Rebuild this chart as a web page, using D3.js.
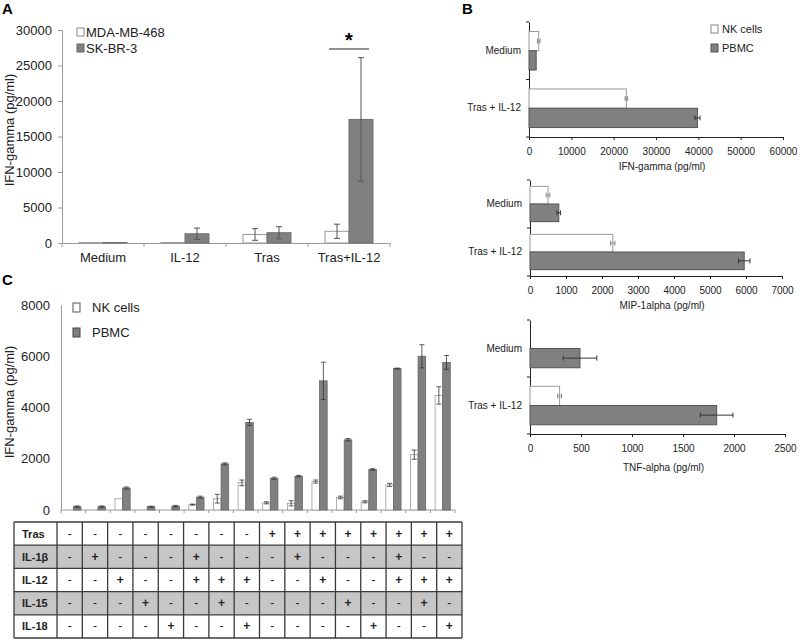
<!DOCTYPE html>
<html><head><meta charset="utf-8">
<script src="https://cdn.jsdelivr.net/npm/d3@7"></script>
<style>body{margin:0;background:#fff} svg{display:block;font-family:Arial,"Liberation Sans",sans-serif}</style>
</head><body><svg id="c" width="800" height="640"></svg>
<script>
// ---------- Panel A data ----------
const aCategories = ["Medium", "IL-12", "Tras", "Tras+IL-12"];
const aSeries = ["MDA-MB-468", "SK-BR-3"];
const aMDA = [60, 70, 1200, 1650];
const aMDAerr = [0, 0, 820, 1000];
const aSKBR = [70, 1300, 1450, 17400];
const aSKBRerr = [0, 800, 850, 8700];
const aTicks = [0, 5000, 10000, 15000, 20000, 25000, 30000];

// ---------- Panel B data ----------
const bCategories = ["Medium", "Tras + IL-12"];
const bSeries = ["NK cells", "PBMC"];
const bIFN_NK = [2300, 23000];
const bIFN_NKerr = [300, 300];
const bIFN_PBMC = [1700, 39800];
const bIFN_PBMCerr = [0, 600];
const bIFNTicks = [0, 10000, 20000, 30000, 40000, 50000, 60000];
const bMIP_NK = [500, 2300];
const bMIP_NKerr = [50, 60];
const bMIP_PBMC = [800, 5950];
const bMIP_PBMCerr = [50, 160];
const bMIPTicks = [0, 1000, 2000, 3000, 4000, 5000, 6000, 7000];
const bTNF_NK = [0, 290];
const bTNF_NKerr = [0, 20];
const bTNF_PBMC = [490, 1830];
const bTNF_PBMCerr = [165, 160];
const bTNFTicks = [0, 500, 1000, 1500, 2000, 2500];

// ---------- Panel C data ----------
const cSeries = ["NK cells", "PBMC"];
const cNK = [0, 0, 440, 0, 0, 210, 440, 1060, 280, 260, 1110, 490, 320, 980, 2160, 4470];
const cNKerr = [0, 0, 0, 0, 0, 20, 170, 110, 40, 100, 60, 50, 40, 60, 180, 340];
const cPBMC = [130, 130, 860, 130, 150, 500, 1800, 3420, 1240, 1320, 5040, 2740, 1580, 5520, 6000, 5760];
const cPBMCerr = [30, 30, 40, 20, 30, 40, 40, 120, 40, 30, 730, 50, 30, 20, 450, 270];
const cTicks = [0, 2000, 4000, 6000, 8000];
const tableRows = ["Tras", "IL-1β", "IL-12", "IL-15", "IL-18"];
const tTras = ["-","-","-","-","-","-","-","-","+","+","+","+","+","+","+","+"];
const tIL1b = ["-","+","-","-","-","+","-","-","-","+","-","-","-","+","-","-"];
const tIL12 = ["-","-","+","-","-","+","+","+","-","-","+","-","-","+","+","+"];
const tIL15 = ["-","-","-","+","-","-","+","-","-","-","-","+","-","-","+","-"];
const tIL18 = ["-","-","-","-","+","-","-","+","-","-","-","-","+","-","-","+"];

const svg = d3.select("#c");
const GREYFILL = "#808080", GREYSTROKE = "#5a5a5a", WHITESTROKE = "#8c8c8c";

// panel letters
[["A", 2, 14], ["B", 462, 14], ["C", 2, 285]].forEach(([t, x, y]) =>
  svg.append("text").attr("x", x).attr("y", y).attr("font-size", 15).attr("font-weight", "bold").text(t));

// ================= Panel A =================
(function () {
  const g = svg.append("g");
  const x = d3.scaleBand().domain(aCategories).range([62, 390]);
  const xi = d3.scaleBand().domain(aSeries).range([0, x.bandwidth()]).paddingOuter(0.71);
  const y = d3.scaleLinear().domain([0, 30000]).range([243, 30]);
  const axisCol = "#9a9a9a";

  const yAx = g.append("g").attr("transform", "translate(62,0)")
    .call(d3.axisLeft(y).tickValues(aTicks).tickFormat(d3.format("d")).tickSize(4).tickSizeOuter(0).tickPadding(6));
  yAx.selectAll("path,line").attr("stroke", axisCol);
  yAx.selectAll("text").attr("font-size", 13).attr("fill", "#222");

  const xAx = g.append("g").attr("transform", "translate(0,243)")
    .call(d3.axisBottom(x).tickSize(0).tickPadding(10));
  xAx.select("path").attr("stroke", axisCol);
  xAx.selectAll("text").attr("font-size", 13).attr("fill", "#222");
  const bounds = aCategories.map(c => x(c)).concat([x.range()[1]]);
  g.selectAll(".xtA").data(bounds).join("line")
    .attr("x1", d => d).attr("x2", d => d).attr("y1", 243).attr("y2", 247).attr("stroke", axisCol);

  const rows = aCategories.map((c, i) => [
    { c, s: aSeries[0], v: aMDA[i], e: aMDAerr[i] },
    { c, s: aSeries[1], v: aSKBR[i], e: aSKBRerr[i] }]).flat();
  g.selectAll(".barA").data(rows).join("rect")
    .attr("x", d => x(d.c) + xi(d.s)).attr("width", xi.bandwidth())
    .attr("y", d => y(d.v)).attr("height", d => y(0) - y(d.v))
    .attr("fill", d => d.s === aSeries[0] ? "#fff" : GREYFILL)
    .attr("stroke", d => d.s === aSeries[0] ? "#999" : "#707070").attr("stroke-width", 1);
  const eb = rows.filter(d => d.e > 0);
  const cx = d => x(d.c) + xi(d.s) + xi.bandwidth() / 2;
  g.selectAll(".ebA").data(eb).join("line")
    .attr("x1", cx).attr("x2", cx).attr("y1", d => y(d.v - d.e)).attr("y2", d => y(d.v + d.e))
    .attr("stroke", "#555");
  g.selectAll(".ecA").data(eb.flatMap(d => [[d, d.v - d.e], [d, d.v + d.e]])).join("line")
    .attr("x1", d => cx(d[0]) - 3).attr("x2", d => cx(d[0]) + 3)
    .attr("y1", d => y(d[1])).attr("y2", d => y(d[1])).attr("stroke", "#555");

  // significance
  const last = aCategories[3];
  g.append("line").attr("x1", x(last) + xi(aSeries[0]) + 4).attr("x2", x(last) + xi(aSeries[1]) + xi.bandwidth() - 4)
    .attr("y1", 49).attr("y2", 49).attr("stroke", "#222").attr("stroke-width", 1.2);
  g.append("text").attr("x", x(last) + x.bandwidth() / 2).attr("y", 47).attr("text-anchor", "middle")
    .attr("font-size", 20).attr("font-weight", "bold").text("*");

  g.append("text").attr("transform", "translate(14,130) rotate(-90)").attr("text-anchor", "middle")
    .attr("font-size", 13).attr("fill", "#222").text("IFN-gamma (pg/ml)");

  const lg = g.selectAll(".lgA").data(aSeries).join("g").attr("transform", (d, i) => `translate(77,${28 + i * 16})`);
  lg.append("rect").attr("width", 7).attr("height", 8).attr("y", 0)
    .attr("fill", (d, i) => i ? GREYFILL : "#fff").attr("stroke", (d, i) => i ? "#666" : "#888");
  lg.append("text").attr("x", 9).attr("y", 9).attr("font-size", 13).attr("fill", "#222").text(d => d);
})();

// ================= Panel B =================
function hPanel(cfg) {
  const g = svg.append("g");
  const x = d3.scaleLinear().domain([0, cfg.max]).range([cfg.x0, cfg.x1]);
  const y = d3.scaleBand().domain(bCategories).range([cfg.y0, cfg.y1]);
  const yi = d3.scaleBand().domain(bSeries).range([0, y.bandwidth()]).paddingOuter(cfg.pad);

  const xAx = g.append("g").attr("transform", `translate(0,${cfg.y1})`)
    .call(d3.axisBottom(x).tickValues(cfg.ticks).tickFormat(d3.format("d")).tickSize(3).tickSizeOuter(0).tickPadding(8));
  xAx.selectAll("path,line").attr("stroke", "#222");
  xAx.selectAll("text").attr("font-size", 10).attr("fill", "#222");
  const yAx = g.append("g").attr("transform", `translate(${cfg.x0},0)`)
    .call(d3.axisLeft(y).tickSize(0).tickPadding(8));
  yAx.select("path").attr("stroke", "#222");
  yAx.selectAll("text").attr("font-size", 10).attr("fill", "#222");
  const bounds = bCategories.map(c => y(c)).concat([cfg.y1]);
  g.selectAll(".ytB").data(bounds).join("line")
    .attr("x1", cfg.x0 - 3).attr("x2", cfg.x0).attr("y1", d => d).attr("y2", d => d).attr("stroke", "#222");

  const rows = bCategories.map((c, i) => [
    { c, s: bSeries[0], v: cfg.nk[i], e: cfg.nkErr[i] },
    { c, s: bSeries[1], v: cfg.pb[i], e: cfg.pbErr[i] }]).flat();
  g.selectAll(".barB").data(rows.filter(d => d.v > 0)).join("rect")
    .attr("y", d => y(d.c) + yi(d.s)).attr("height", yi.bandwidth())
    .attr("x", x(0)).attr("width", d => x(d.v) - x(0))
    .attr("fill", d => d.s === bSeries[0] ? "#fff" : GREYFILL)
    .attr("stroke", d => d.s === bSeries[0] ? "#999" : "#555");
  const eb = rows.filter(d => d.e > 0);
  const cy = d => y(d.c) + yi(d.s) + yi.bandwidth() / 2;
  g.selectAll(".ebB").data(eb).join("line")
    .attr("y1", cy).attr("y2", cy).attr("x1", d => x(d.v - d.e)).attr("x2", d => x(d.v + d.e))
    .attr("stroke", d => d.s === bSeries[0] ? "#888" : "#333");
  g.selectAll(".ecB").data(eb.flatMap(d => [[d, d.v - d.e], [d, d.v + d.e]])).join("line")
    .attr("y1", d => cy(d[0]) - 2.5).attr("y2", d => cy(d[0]) + 2.5)
    .attr("x1", d => x(d[1])).attr("x2", d => x(d[1]))
    .attr("stroke", d => d[0].s === bSeries[0] ? "#888" : "#333");

  g.append("text").attr("x", (cfg.x0 + cfg.x1) / 2 + 6).attr("y", cfg.titleY).attr("text-anchor", "middle")
    .attr("font-size", 10).attr("fill", "#222").text(cfg.title);

  if (cfg.legend) {
    const lg = g.selectAll(".lgB").data(bSeries).join("g").attr("transform", (d, i) => `translate(711,${25 + i * 19})`);
    lg.append("rect").attr("width", 7).attr("height", 8)
      .attr("fill", (d, i) => i ? GREYFILL : "#fff").attr("stroke", (d, i) => i ? "#555" : "#888");
    lg.append("text").attr("x", 11).attr("y", 8).attr("font-size", 11).attr("fill", "#222").text(d => d);
  }
}
hPanel({ max: 60000, ticks: bIFNTicks, x0: 529, x1: 783, y0: 22, y1: 137, pad: 0.49,
  nk: bIFN_NK, nkErr: bIFN_NKerr, pb: bIFN_PBMC, pbErr: bIFN_PBMCerr, title: "IFN-gamma (pg/ml)", titleY: 170, legend: true });
hPanel({ max: 7000, ticks: bMIPTicks, x0: 530, x1: 782, y0: 180, y1: 276, pad: 0.36,
  nk: bMIP_NK, nkErr: bMIP_NKerr, pb: bMIP_PBMC, pbErr: bMIP_PBMCerr, title: "MIP-1alpha (pg/ml)", titleY: 309 });
hPanel({ max: 2500, ticks: bTNFTicks, x0: 530, x1: 785, y0: 320, y1: 434, pad: 0.48,
  nk: bTNF_NK, nkErr: bTNF_NKerr, pb: bTNF_PBMC, pbErr: bTNF_PBMCerr, title: "TNF-alpha (pg/ml)", titleY: 471 });

// ================= Panel C =================
(function () {
  const g = svg.append("g");
  const groups = d3.range(cNK.length);
  const x = d3.scaleBand().domain(groups).range([61, 455]);
  const xi = d3.scaleBand().domain(cSeries).range([0, x.bandwidth()]).paddingOuter(0.62);
  const y = d3.scaleLinear().domain([0, 8000]).range([510, 305]);
  const axisCol = "#9a9a9a";

  const yAx = g.append("g").attr("transform", "translate(61,0)")
    .call(d3.axisLeft(y).tickValues(cTicks).tickFormat(d3.format("d")).tickSize(0).tickPadding(11));
  yAx.select("path").attr("stroke", axisCol);
  yAx.selectAll("text").attr("font-size", 13).attr("fill", "#222");
  g.append("line").attr("x1", 61).attr("x2", 455).attr("y1", 510).attr("y2", 510).attr("stroke", axisCol);
  const bounds = groups.map(d => x(d)).concat([x.range()[1]]);
  g.selectAll(".xtC").data(bounds).join("line")
    .attr("x1", d => d).attr("x2", d => d).attr("y1", 510).attr("y2", 513).attr("stroke", axisCol);

  const rows = groups.map(i => [
    { c: i, s: cSeries[0], v: cNK[i], e: cNKerr[i] },
    { c: i, s: cSeries[1], v: cPBMC[i], e: cPBMCerr[i] }]).flat();
  g.selectAll(".barC").data(rows.filter(d => d.v > 0)).join("rect")
    .attr("x", d => x(d.c) + xi(d.s)).attr("width", xi.bandwidth())
    .attr("y", d => y(d.v)).attr("height", d => y(0) - y(d.v))
    .attr("fill", d => d.s === cSeries[0] ? "#fff" : GREYFILL)
    .attr("stroke", d => d.s === cSeries[0] ? "#999" : "#666").attr("stroke-width", 0.8);
  const eb = rows.filter(d => d.e > 0);
  const cx = d => x(d.c) + xi(d.s) + xi.bandwidth() / 2;
  g.selectAll(".ebC").data(eb).join("line")
    .attr("x1", cx).attr("x2", cx).attr("y1", d => y(d.v - d.e)).attr("y2", d => y(d.v + d.e))
    .attr("stroke", "#333").attr("stroke-width", 0.8);
  g.selectAll(".ecC").data(eb.flatMap(d => [[d, d.v - d.e], [d, d.v + d.e]])).join("line")
    .attr("x1", d => cx(d[0]) - 2.5).attr("x2", d => cx(d[0]) + 2.5)
    .attr("y1", d => y(d[1])).attr("y2", d => y(d[1])).attr("stroke", "#333").attr("stroke-width", 0.8);

  g.append("text").attr("transform", "translate(14,402) rotate(-90)").attr("text-anchor", "middle")
    .attr("font-size", 13).attr("fill", "#222").text("IFN-gamma (pg/ml)");

  const lg = g.selectAll(".lgC").data(cSeries).join("g").attr("transform", (d, i) => `translate(73,${303 + i * 25})`);
  lg.append("rect").attr("width", 7).attr("height", 9)
    .attr("fill", (d, i) => i ? GREYFILL : "#fff").attr("stroke", (d, i) => i ? "#444" : "#555");
  lg.append("text").attr("x", 19).attr("y", 9).attr("font-size", 13).attr("fill", "#222").text(d => d);

  // ---- table ----
  const tData = [tTras, tIL1b, tIL12, tIL15, tIL18];
  const tx = d3.scaleBand().domain(groups).range([57, 462]);
  const ty = d3.scaleBand().domain(tableRows).range([522, 638]);
  const tg = svg.append("g");
  tg.selectAll(".rowbg").data(tableRows).join("rect")
    .attr("x", 14).attr("width", 462 - 14).attr("y", d => ty(d)).attr("height", ty.bandwidth())
    .attr("fill", (d, i) => i % 2 ? "#c6c6c6" : "#fff");
  const vlines = [14].concat(groups.map(d => tx(d))).concat([462]);
  tg.selectAll(".vl").data(vlines).join("line")
    .attr("x1", d => d).attr("x2", d => d).attr("y1", 522).attr("y2", 638).attr("stroke", "#3a3a3a").attr("stroke-width", 1.3);
  const hlines = tableRows.map(d => ty(d)).concat([638]);
  tg.selectAll(".hl").data(hlines).join("line")
    .attr("x1", 14).attr("x2", 462).attr("y1", d => d).attr("y2", d => d).attr("stroke", "#3a3a3a").attr("stroke-width", 1.3);
  tg.selectAll(".rl").data(tableRows).join("text")
    .attr("x", 22).attr("y", d => ty(d) + ty.bandwidth() / 2 + 4).attr("font-size", 11).attr("font-weight", "bold")
    .attr("fill", "#222").text(d => d);
  const cells = tData.flatMap((row, ri) => row.map((v, ci) => ({ r: tableRows[ri], c: ci, v })));
  tg.selectAll(".cell").data(cells).join("text")
    .attr("x", d => tx(d.c) + tx.bandwidth() / 2).attr("y", d => ty(d.r) + ty.bandwidth() / 2 + 4)
    .attr("text-anchor", "middle").attr("font-size", 12).attr("font-weight", d => d.v === "+" ? "bold" : "normal")
    .attr("fill", "#222").text(d => d.v);
})();
</script></body></html>
